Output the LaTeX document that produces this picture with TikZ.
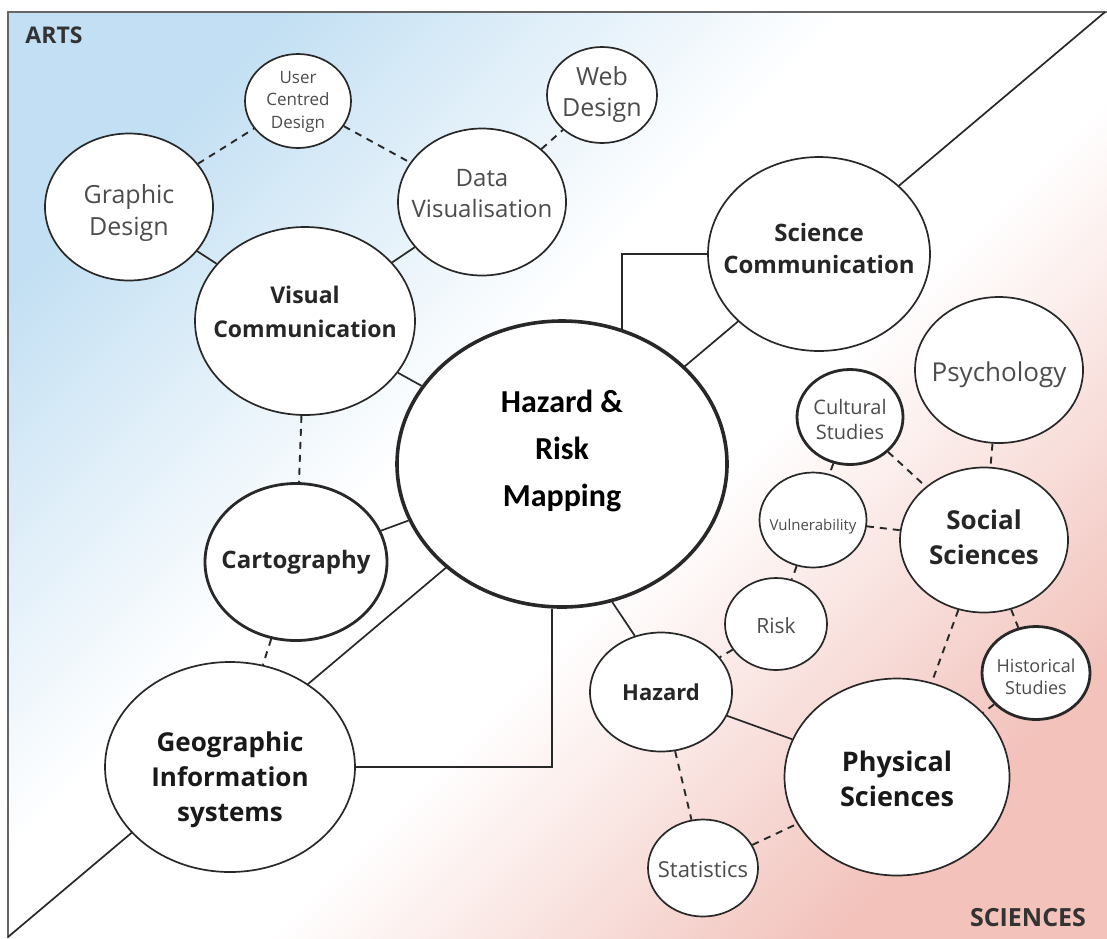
\documentclass[tikz,border=0pt]{standalone}
\usepackage{fontspec}
\setmainfont{Open Sans}
\newfontfamily\hrmfont{Carlito}
\usepackage{tikz}
\usetikzlibrary{shapes.geometric}
\definecolor{artsblue}{RGB}{194,223,243}
\definecolor{scipink}{RGB}{242,194,187}
\definecolor{edgegrey}{RGB}{40,40,40}
\tikzstyle{bubble}=[fill=white, draw=edgegrey, shape=ellipse, inner sep=0pt, line width=1.7pt, text=black!70]
\tikzstyle{ringed bubble}=[bubble, line width=2.8pt]
\tikzstyle{link}=[draw=edgegrey, line width=1.7pt]
\tikzstyle{dashed link}=[link, line width=1.9pt, dash pattern=on 7pt off 6pt]
\tikzstyle{frame}=[draw=black!60, line width=2pt]
\pgfdeclarelayer{backlayer}
\pgfdeclarelayer{edgelayer}
\pgfdeclarelayer{nodelayer}
\pgfsetlayers{backlayer,edgelayer,nodelayer,main}
\pgfdeclarehorizontalshading{artsci}{100bp}{color(0bp)=(artsblue); color(24bp)=(artsblue); color(44bp)=(white); color(56bp)=(white); color(76bp)=(scipink); color(100bp)=(scipink)}
% bubble text: [font] size, line skip, raise, lines
\newcommand{\btext}[5][]{\raisebox{#4}[0pt][0pt]{\vbox to 0pt{\vss\hbox to 0pt{\hss#1\fontsize{#2}{#3}\selectfont\begin{tabular}{@{}c@{}}#5\end{tabular}\hss}\vss}}}

\begin{document}
\begin{tikzpicture}[x=1pt, y=-1pt]
    \useasboundingbox (0,0) rectangle (1107,938);
    \coordinate (frame sw) at (8,938);
    \coordinate (frame ne) at (1107,12);
    \coordinate (divide sw) at (8,937);
    \coordinate (divide ne) at (1105,12);
    \begin{pgfonlayer}{backlayer}
        \shade [shading=artsci, shading angle=-45] (8,12) rectangle (1107,938);
    \end{pgfonlayer}
    \begin{pgfonlayer}{nodelayer}
        \node [font=\bfseries\fontsize{23}{23}\selectfont, text=black!80] (arts) at (54,35) {ARTS};
        \node [font=\bfseries\fontsize{25}{25}\selectfont, text=black!80] (sciences) at (1028,918) {SCIENCES};
        % arts side
        \node [style=bubble, minimum width=106pt, minimum height=94pt] (ucd) at (298,101) {\btext{17}{22.5}{0pt}{User\\Centred\\Design}};
        \node [style=bubble, minimum width=168pt, minimum height=147pt] (graphic) at (129,207) {\btext{25}{32}{-6pt}{Graphic\\Design}};
        \node [style=bubble, minimum width=168pt, minimum height=147pt] (datavis) at (482,202) {\btext{24}{31}{6pt}{Data\\Visualisation}};
        \node [style=bubble, minimum width=110pt, minimum height=96pt] (web) at (602,95) {\btext{25}{31}{0pt}{Web\\Design}};
        \node [style=bubble, minimum width=220pt, minimum height=188pt, text=black!85] (viscomm) at (305,321) {\btext[\bfseries]{23}{34}{7pt}{Visual\\Communication}};
        \node [style=ringed bubble, minimum width=182pt, minimum height=157pt, text=black!85] (carto) at (296,562) {\btext[\bfseries]{24}{30}{0pt}{Cartography}};
        \node [style=bubble, minimum width=250pt, minimum height=210pt, text=black!90] (gis) at (230,767) {\btext[\bfseries]{26}{35}{-12pt}{Geographic\\Information\\systems}};
        % centre
        \node [style=bubble, line width=3.6pt, minimum width=330pt, minimum height=286pt, text=black] (hrm) at (562,464) {\btext[\hrmfont\bfseries]{32}{47}{14pt}{Hazard \&\\Risk\\Mapping}};
        % sciences side
        \node [style=bubble, minimum width=222pt, minimum height=194pt, text=black!85] (scicomm) at (819,254) {\btext[\bfseries]{24}{32}{3pt}{Science\\Communication}};
        \node [style=bubble, minimum width=168pt, minimum height=146pt] (psych) at (999,370) {\btext{26}{30}{-5pt}{Psychology}};
        \node [style=ringed bubble, minimum width=106pt, minimum height=95pt] (cultural) at (850,417) {\btext{20}{25}{-5pt}{Cultural\\Studies}};
        \node [style=bubble, minimum width=107pt, minimum height=95pt] (vuln) at (813,520) {\btext{15}{18}{-7pt}{Vulnerability}};
        \node [style=bubble, minimum width=168pt, minimum height=145pt, text=black!85] (social) at (984,540) {\btext[\bfseries]{26}{35}{0pt}{Social\\Sciences}};
        \node [style=bubble, minimum width=102pt, minimum height=92pt] (risk) at (776,624) {\btext{21}{25}{-4pt}{Risk}};
        \node [style=bubble, minimum width=142pt, minimum height=119pt, text=black!85] (hazard) at (661,692) {\btext[\bfseries]{22}{26}{-3pt}{Hazard}};
        \node [style=bubble, minimum width=110pt, minimum height=97pt] (stats) at (703,868) {\btext{22}{26}{-4pt}{Statistics}};
        \node [style=bubble, minimum width=225pt, minimum height=197pt, text=black!90] (physical) at (897,777) {\btext[\bfseries]{27}{35}{-5pt}{Physical\\Sciences}};
        \node [style=ringed bubble, minimum width=108pt, minimum height=93pt] (historical) at (1036,673) {\btext{18}{22}{-6pt}{Historical\\Studies}};
    \end{pgfonlayer}
    \begin{pgfonlayer}{edgelayer}
        \draw [style=frame] (frame sw) |- (frame ne);
        \draw [style=link] (divide sw) to (divide ne);
        \draw [style=link] (graphic) to (viscomm);
        \draw [style=link] (datavis) to (viscomm);
        \draw [style=link] (viscomm) to (hrm);
        \draw [style=link] (carto) to (hrm);
        \draw [style=link] (hrm.66) |- (scicomm);
        \draw [style=link] (hrm.-94) |- (gis);
        \draw [style=link] (hrm.-70) to (hazard.115);
        \draw [style=link] (hazard) to (physical);
        \draw [style=dashed link] (graphic) to (ucd);
        \draw [style=dashed link] (ucd) to (datavis);
        \draw [style=dashed link] (datavis) to (web);
        \draw [style=dashed link] (viscomm) to (carto);
        \draw [style=dashed link] (carto) to (gis);
        \draw [style=dashed link] (cultural) to (social);
        \draw [style=dashed link] (cultural) to (vuln);
        \draw [style=dashed link] (psych) to (social);
        \draw [style=dashed link] (vuln) to (social);
        \draw [style=dashed link] (vuln) to (risk);
        \draw [style=dashed link] (risk) to (hazard);
        \draw [style=dashed link] (hazard) to (stats);
        \draw [style=dashed link] (stats) to (physical);
        \draw [style=dashed link] (social) to (physical);
        \draw [style=dashed link] (social) to (historical);
        \draw [style=dashed link] (historical) to (physical);
    \end{pgfonlayer}
\end{tikzpicture}
\end{document}
